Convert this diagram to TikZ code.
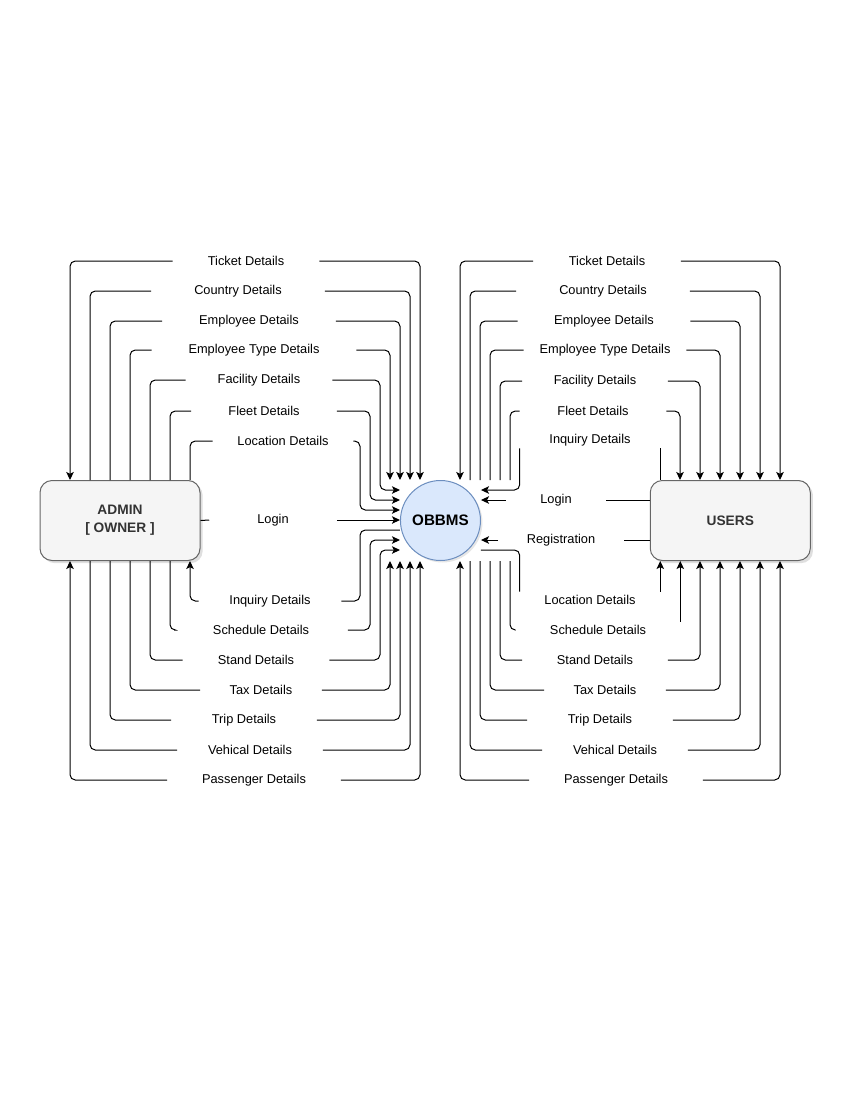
\documentclass[tikz,border=0pt]{standalone}
\usepackage{fontspec}
\setmainfont{Liberation Sans}
\usepackage{tikz}
\usetikzlibrary{arrows.meta,positioning,shadows}
\definecolor{entfill}{HTML}{F5F5F5}
\definecolor{entline}{HTML}{666666}
\definecolor{procfill}{HTML}{DAE8FC}
\definecolor{procline}{HTML}{6C8EBF}
\definecolor{txtgray}{HTML}{333333}

\begin{document}
\begin{tikzpicture}[
  x=0.75pt,y=-0.75pt,
  entity/.style={draw=entline,fill=entfill,rounded corners=9pt,line width=0.75pt,
                 minimum width=120pt,minimum height=60pt,align=center,text=txtgray,
                 font=\fontsize{10.3}{13.5}\selectfont\bfseries,
                 drop shadow={shadow xshift=2pt,shadow yshift=-2pt,opacity=0.25}},
  process/.style={circle,draw=procline,fill=procfill,line width=0.75pt,
                  minimum size=60pt,inner sep=0pt,
                  font=\fontsize{11.4}{13}\selectfont\bfseries,
                  drop shadow={shadow xshift=1.5pt,shadow yshift=-1.5pt,opacity=0.2}},
  lbl/.style={fill=white,inner xsep=0pt,inner ysep=1pt,minimum height=12pt,
              font=\fontsize{9.6}{11}\selectfont},
  gapw/.style={minimum width=0.75pt*#1},
  dataline/.style={line width=0.75pt,rounded corners=4pt},
  flow/.style={dataline,-{Stealth[length=6pt,width=5.6pt,inset=1.4pt]}}
]
\useasboundingbox (0,0) rectangle (850,1100);

\node[entity] (admin) at (120,520.5) {ADMIN\\{[} OWNER ]};
\node[process, right=149.6pt of admin] (obbms) {OBBMS};
\node[entity, right=126.6pt of obbms] (users) {USERS};

% labels, admin side
\node[lbl,gapw=146] (ltic) at (246,261) {Ticket Details};
\node[lbl,gapw=173] (lcou) at (238,291) {Country Details};
\node[lbl,gapw=173] (lemp) at (249,321) {Employee Details};
\node[lbl,gapw=204] (ltyp) at (254,350) {Employee Type Details};
\node[lbl,gapw=146] (lfac) at (259,380) {Facility Details};
\node[lbl,gapw=145] (lfle) at (264,411) {Fleet Details};
\node[lbl,gapw=140] (lloc) at (283,441) {Location Details};
\node[lbl,gapw=127] (llog) at (273,520) {Login};
\node[lbl,gapw=142] (linq) at (270,601) {Inquiry Details};
\node[lbl,gapw=173] (lsch) at (261,630) {Schedule Details};
\node[lbl,gapw=146] (lsta) at (256,660) {Stand Details};
\node[lbl,gapw=121] (ltax) at (261,690) {Tax Details};
\node[lbl,gapw=145] (ltri) at (244,720) {Trip Details};
\node[lbl,gapw=145] (lveh) at (250,750) {Vehical Details};
\node[lbl,gapw=173] (lpas) at (254,780) {Passenger Details};

% labels, users side
\node[lbl,gapw=147] (rtic) at (607,261) {Ticket Details};
\node[lbl,gapw=173] (rcou) at (603,291) {Country Details};
\node[lbl,gapw=172] (remp) at (604,321) {Employee Details};
\node[lbl,gapw=162] (rtyp) at (605,350) {Employee Type Details};
\node[lbl,gapw=145] (rfac) at (595,381) {Facility Details};
\node[lbl,gapw=146] (rfle) at (593,411) {Fleet Details};
\node[lbl,gapw=140] (rinq) at (590,440) {Inquiry Details};
\node[lbl,gapw=100] (rlog) at (556,500) {Login};
\node[lbl,gapw=125] (rreg) at (561,540) {Registration};
\node[lbl,gapw=140] (rloc) at (590,600) {Location Details};
\node[lbl,gapw=164] (rsch) at (598,630) {Schedule Details};
\node[lbl,gapw=145] (rsta) at (595,660) {Stand Details};
\node[lbl,gapw=121] (rtax) at (605,690) {Tax Details};
\node[lbl,gapw=145] (rtri) at (600,720) {Trip Details};
\node[lbl,gapw=145] (rveh) at (615,750) {Vehical Details};
\node[lbl,gapw=173] (rpas) at (616,780) {Passenger Details};

% admin <-> obbms
\draw[flow] (ltic.west) -| (70,0 |- admin.north);
\draw[flow] (ltic.east) -| (420,0 |- obbms.north);
\draw[dataline] (lcou.west) -| (90,0 |- admin.north);
\draw[flow] (lcou.east) -| (410,0 |- obbms.north);
\draw[dataline] (lemp.west) -| (110,0 |- admin.north);
\draw[flow] (lemp.east) -| (400,0 |- obbms.north);
\draw[dataline] (ltyp.west) -| (130,0 |- admin.north);
\draw[flow] (ltyp.east) -| (390,0 |- obbms.north);
\draw[dataline] (lfac.west) -| (150,0 |- admin.north);
\draw[flow] (lfac.east) -| (380,490) -- (obbms.west |- 0,490);
\draw[dataline] (lfle.west) -| (170,0 |- admin.north);
\draw[flow] (lfle.east) -| (370,500) -- (obbms.west |- 0,500);
\draw[dataline] (lloc.west) -| (190,0 |- admin.north);
\draw[flow] (lloc.east) -| (360,510) -- (obbms.west |- 0,510);
\draw[dataline] (admin.east) -- (llog.west);
\draw[flow] (llog.east) -- (obbms.west |- llog.east);
\draw[flow] (linq.west) -| (190,0 |- admin.south);
\draw[dataline] (linq.east) -| (360,530) -- (obbms.west |- 0,530);
\draw[dataline] (lsch.west) -| (170,0 |- admin.south);
\draw[flow] (lsch.east) -| (370,540) -- (obbms.west |- 0,540);
\draw[dataline] (lsta.west) -| (150,0 |- admin.south);
\draw[flow] (lsta.east) -| (380,550) -- (obbms.west |- 0,550);
\draw[dataline] (ltax.west) -| (130,0 |- admin.south);
\draw[flow] (ltax.east) -| (390,0 |- obbms.south);
\draw[dataline] (ltri.west) -| (110,0 |- admin.south);
\draw[flow] (ltri.east) -| (400,0 |- obbms.south);
\draw[dataline] (lveh.west) -| (90,0 |- admin.south);
\draw[flow] (lveh.east) -| (410,0 |- obbms.south);
\draw[flow] (lpas.west) -| (70,0 |- admin.south);
\draw[flow] (lpas.east) -| (420,0 |- obbms.south);

% obbms <-> users
\draw[flow] (rtic.west) -| (460,0 |- obbms.north);
\draw[flow] (rtic.east) -| (780,0 |- users.north);
\draw[dataline] (rcou.west) -| (470,0 |- obbms.north);
\draw[flow] (rcou.east) -| (760,0 |- users.north);
\draw[dataline] (remp.west) -| (480,0 |- obbms.north);
\draw[flow] (remp.east) -| (740,0 |- users.north);
\draw[dataline] (rtyp.west) -| (490,0 |- obbms.north);
\draw[flow] (rtyp.east) -| (720,0 |- users.north);
\draw[dataline] (rfac.west) -| (500,0 |- obbms.north);
\draw[flow] (rfac.east) -| (700,0 |- users.north);
\draw[dataline] (rfle.west) -| (510,0 |- obbms.north);
\draw[flow] (rfle.east) -| (680,0 |- users.north);
\draw[dataline] (rinq.south east) -- (rinq.south east |- users.north);
\draw[flow] (rinq.south west) |- (obbms.east |- 0,490);
\draw[dataline] (users.west |- rlog.east) -- (rlog.east);
\draw[flow] (rlog.west) -- (obbms.east |- rlog.west);
\draw[dataline] (users.west |- rreg.east) -- (rreg.east);
\draw[flow] (rreg.west) -- (obbms.east |- rreg.west);
\draw[flow] (rloc.north east) -- (rloc.north east |- users.south);
\draw[dataline] (rloc.north west) |- (obbms.east |- 0,550);
\draw[flow] (rsch.north east) -- (rsch.north east |- users.south);
\draw[dataline] (rsch.west) -| (510,0 |- obbms.south);
\draw[dataline] (rsta.west) -| (500,0 |- obbms.south);
\draw[flow] (rsta.east) -| (700,0 |- users.south);
\draw[dataline] (rtax.west) -| (490,0 |- obbms.south);
\draw[flow] (rtax.east) -| (720,0 |- users.south);
\draw[dataline] (rtri.west) -| (480,0 |- obbms.south);
\draw[flow] (rtri.east) -| (740,0 |- users.south);
\draw[dataline] (rveh.west) -| (470,0 |- obbms.south);
\draw[flow] (rveh.east) -| (760,0 |- users.south);
\draw[flow] (rpas.west) -| (460,0 |- obbms.south);
\draw[flow] (rpas.east) -| (780,0 |- users.south);
\end{tikzpicture}
\end{document}
